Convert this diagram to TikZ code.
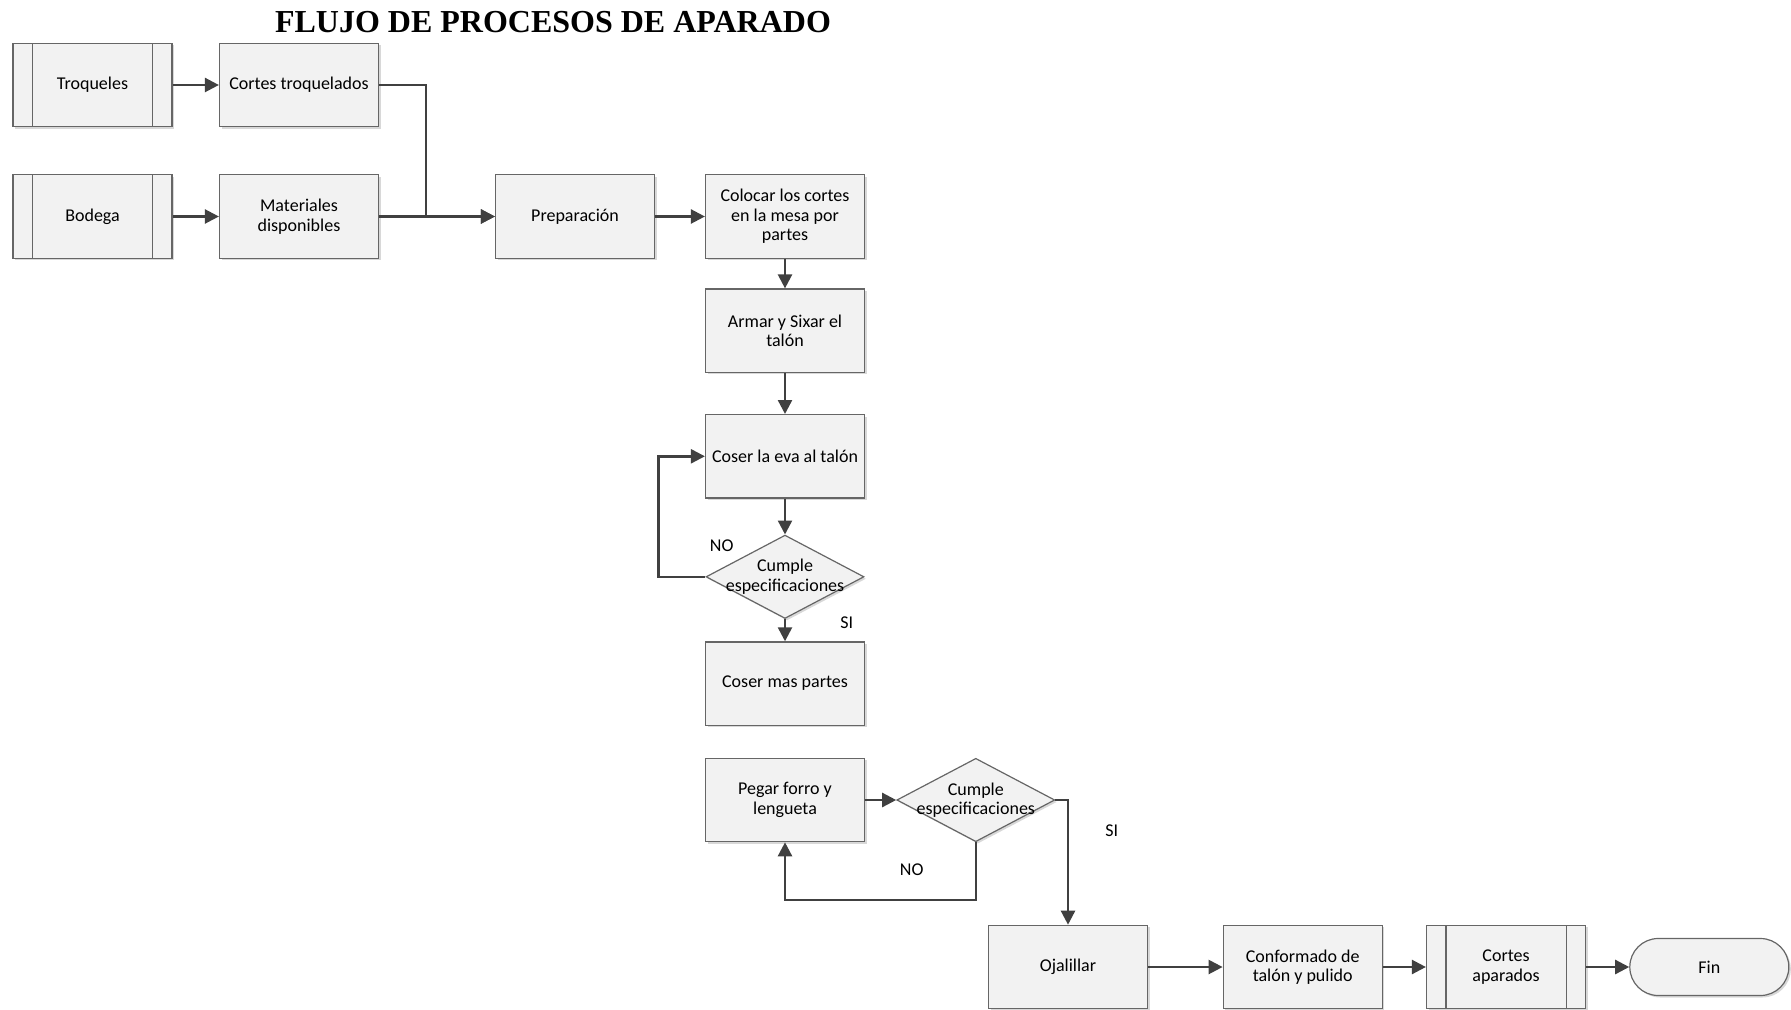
\documentclass[tikz,border=0pt]{standalone}
\usepackage{fontspec}
\usetikzlibrary{shapes.geometric,arrows.meta,shadows}
\newfontfamily\flowfamily{Carlito}
\newfontfamily\titlefamily{Liberation Serif}
\newcommand\flowfont{\flowfamily\fontsize{9}{9.8}\selectfont}
\tikzset{
  boxbase/.style={draw=black!60, line width=0.6pt, fill=black!5,
    drop shadow={shadow xshift=1pt, shadow yshift=-1pt, fill=black!30, opacity=0.5},
    align=center, font=\flowfont, inner sep=2pt},
  proc/.style={boxbase, rectangle, minimum width=79.5pt, minimum height=41.7pt},
  subproc/.style={proc, path picture={
      \draw[black!60, line width=0.6pt]
        ([xshift=9.7pt]path picture bounding box.north west) -- ([xshift=9.7pt]path picture bounding box.south west)
        ([xshift=-9.7pt]path picture bounding box.north east) -- ([xshift=-9.7pt]path picture bounding box.south east);}},
  decision/.style={boxbase, diamond, minimum width=79pt, minimum height=41.7pt, inner sep=0pt},
  terminal/.style={boxbase, rectangle, rounded corners=14.2pt, minimum width=79.5pt, minimum height=28.5pt},
  flow/.style={draw=black!75, line width=1.2pt, -{Triangle[length=7pt,width=7pt]}},
  tag/.style={font=\flowfont, inner sep=0pt}
}
\begin{document}
\begin{tikzpicture}[x=0.5pt, y=-0.5pt]
\useasboundingbox (0,0) rectangle (1791,1010);

% title
\node[font=\titlefamily\bfseries\fontsize{16}{18}\selectfont, inner sep=0pt] (title) at (553,22) {FLUJO DE PROCESOS DE APARADO};

% inputs
\node[subproc] (tro) at (92.5,85) {Troqueles};
\node[proc] (ct) at (299,85) {Cortes troquelados};
\node[subproc] (bod) at (92.5,216.5) {Bodega};
\node[proc] (mat) at (299,216.5) {Materiales\\disponibles};
\node[proc] (prep) at (575,216.5) {Preparación};
\node[proc] (col) at (785,216.5) {Colocar los cortes\\en la mesa por\\partes};

% heel column
\node[proc] (arm) at (785,330.7) {Armar y Sixar el\\talón};
\node[proc] (cev) at (785,456.3) {Coser la eva al talón};
\node[decision, label={[font=\flowfont, align=center]center:Cumple\\especificaciones}] (d1) at (785,576.8) {};
\node[proc] (cmp) at (785,683.6) {Coser mas partes};

% lining and finishing
\node[proc] (peg) at (785,800) {Pegar forro y\\lengueta};
\node[decision, label={[font=\flowfont, align=center]center:Cumple\\especificaciones}] (d2) at (975.8,800) {};
\node[proc] (oja) at (1068,967) {Ojalillar};
\node[proc] (conf) at (1302.7,967) {Conformado de\\talón y pulido};
\node[subproc] (ca) at (1506,967) {Cortes\\aparados};
\node[terminal] (fin) at (1709.3,967) {Fin};

% helper coordinates for routed connectors
\coordinate (j1) at (426,216.5);
\coordinate (l1) at (658.3,0);
\coordinate (l2) at (0,900);

% connectors
\draw[flow] (tro) -- (ct);
\draw[flow] (bod) -- (mat);
\draw[flow] (ct.east) -| (j1) -- (prep.west);
\draw[flow] (mat) -- (prep);
\draw[flow] (prep) -- (col);
\draw[flow] (col) -- (arm);
\draw[flow] (arm) -- (cev);
\draw[flow] (cev) -- (d1);
\draw[flow] (d1) -- (cmp);
\draw[flow] (d1.west) -- (d1.west -| l1) |- (cev.west);
\draw[flow] (peg) -- (d2);
\draw[flow] (d2.east) -| (oja.north);
\draw[flow] (d2.south) -- (d2.south |- l2) -| (peg.south);
\draw[flow] (oja) -- (conf);
\draw[flow] (conf) -- (ca);
\draw[flow] (ca) -- (fin);

% branch labels
\node[tag] (no1) at (721.7,546) {NO};
\node[tag] (si1) at (846.7,622.7) {SI};
\node[tag] (si2) at (1111.7,830.7) {SI};
\node[tag] (no2) at (911.7,870) {NO};
\end{tikzpicture}
\end{document}
